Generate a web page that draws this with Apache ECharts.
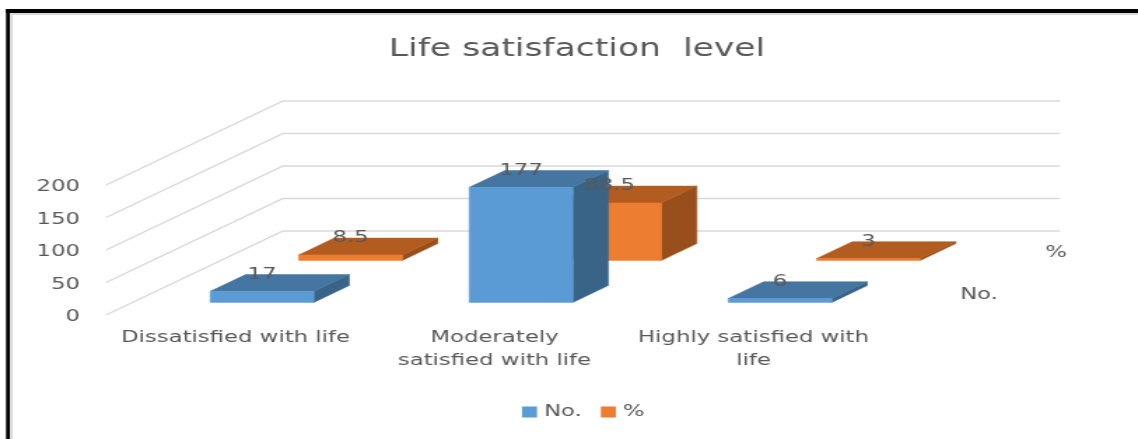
<!DOCTYPE html>
<html>
<head>
<meta charset="utf-8">
<style>
  html, body { margin: 0; padding: 0; background: #fff; overflow: hidden; }
  /* the source picture is a sideways stretched screenshot, so stretch the chart the same way */
  #chart { width: 813px; height: 439px; transform: scaleX(1.39975); transform-origin: left top; }
</style>
<script src="https://cdn.jsdelivr.net/npm/echarts@6/dist/echarts.min.js"></script>
</head>
<body>
<div id="chart"></div>
<script>
const categories = ["Dissatisfied with life", "Moderately\nsatisfied with life", "Highly satisfied with\nlife"];
const noValues = [17, 177, 6];
const percentValues = [8.5, 88.5, 3];
const valueTicks = [0, 50, 100, 150, 200];

const STRETCH = 1138 / 813;
const px = (v) => v / STRETCH;

const FONT = "DejaVu Sans";
const FONT_SIZE = 16.3;
const TEXT = "#595959";
const DEPTH_X = px(177);
const DEPTH_Y = 84;
const ROWS = 2;
const BAR_FRACTION = 0.4;

const chart = echarts.init(document.querySelector("#chart"));

function poly(points, fill, z2) {
  return {
    type: "polygon",
    z2: z2,
    shape: { points: points },
    style: { fill: fill, stroke: fill, lineWidth: 0.5 }
  };
}

// one oblique box per data item, row is its place along the depth direction
function barRenderer(row, front, top, side) {
  return function (params, api) {
    const cat = api.value(0);
    const val = api.value(1);
    const slotW = api.size([1, 0])[0];
    const w = slotW * BAR_FRACTION;
    const rowX = DEPTH_X / ROWS;
    const rowY = DEPTH_Y / ROWS;
    const shiftX = (row + 0.3) * rowX;
    const shiftY = (row + 0.3) * rowY;
    const dx = rowX * BAR_FRACTION;
    const dy = rowY * BAR_FRACTION;
    const base = api.coord([cat, 0]);
    const head = api.coord([cat, val]);
    const x0 = base[0] - w / 2 + shiftX;
    const x1 = x0 + w;
    const y0 = base[1] - shiftY;
    const y1 = head[1] - shiftY;
    const z = 10 * (ROWS - row);
    return {
      type: "group",
      children: [
        poly([[x1, y0], [x1 + dx, y0 - dy], [x1 + dx, y1 - dy], [x1, y1]], side, z),
        poly([[x0, y1], [x1, y1], [x1 + dx, y1 - dy], [x0 + dx, y1 - dy]], top, z),
        poly([[x0, y0], [x1, y0], [x1, y1], [x0, y1]], front, z + 1),
        {
          type: "text",
          z2: 100,
          style: {
            x: (x0 + x1) / 2,
            y: y1 - dy,
            text: String(val),
            fill: TEXT,
            font: FONT_SIZE + "px " + FONT,
            align: "center",
            verticalAlign: "middle"
          }
        }
      ]
    };
  };
}

// floor edge and back wall for every value tick
function wallRenderer(params, api) {
  const tick = api.value(0);
  const y = api.coord([0, tick])[1];
  const left = params.coordSys.x;
  const right = left + params.coordSys.width;
  return {
    type: "polyline",
    z2: 1,
    shape: {
      points: [[left, y], [left + DEPTH_X, y - DEPTH_Y], [right + DEPTH_X, y - DEPTH_Y]]
    },
    style: { stroke: "#d9d9d9", lineWidth: 1.4, fill: "none" }
  };
}

function depthLabel(text, x, y) {
  return {
    type: "text",
    style: { x: px(x), y: y, text: text, fill: TEXT, font: FONT_SIZE + "px " + FONT, align: "center", verticalAlign: "middle" }
  };
}

chart.setOption({
  animation: false,
  backgroundColor: "#fff",
  title: {
    text: "Life satisfaction  level",
    left: px(577),
    top: 50,
    padding: 0,
    textAlign: "center",
    textVerticalAlign: "middle",
    textStyle: { color: TEXT, fontFamily: FONT, fontSize: 24.7, fontWeight: "normal" }
  },
  legend: {
    data: ["No.", "%"],
    left: px(522),
    top: 404,
    padding: 0,
    icon: "rect",
    itemWidth: px(15),
    itemHeight: 11,
    itemGap: px(19),
    textStyle: { color: TEXT, fontFamily: FONT, fontSize: FONT_SIZE }
  },
  grid: { left: px(106), top: 185, width: px(777), height: 130 },
  xAxis: {
    type: "category",
    data: categories,
    axisLine: { show: false },
    axisTick: { show: false },
    axisLabel: { color: TEXT, fontFamily: FONT, fontSize: FONT_SIZE, lineHeight: 23, margin: 11, interval: 0 }
  },
  yAxis: {
    type: "value",
    min: 0,
    max: 200,
    interval: 50,
    axisLine: { show: false },
    axisTick: { show: false },
    splitLine: { show: false },
    axisLabel: { color: TEXT, fontFamily: FONT, fontSize: FONT_SIZE, margin: px(26), verticalAlign: "top", lineHeight: 16, padding: [-6, 0, 0, 0] }
  },
  graphic: [
    depthLabel("%", 1056, 253),
    depthLabel("No.", 979, 295),
    { type: "rect", shape: { x: px(6), y: 9, width: px(1132), height: 4 }, style: { fill: "#000" } },
    { type: "rect", shape: { x: px(6), y: 9, width: px(4), height: 430 }, style: { fill: "#000" } },
    { type: "rect", shape: { x: px(10), y: 13, width: px(1128), height: 2 }, style: { fill: "#d9d9d9" } },
    { type: "rect", shape: { x: px(10), y: 13, width: px(2.5), height: 426 }, style: { fill: "#d9d9d9" } }
  ],
  series: [
    {
      type: "custom",
      name: "walls",
      silent: true,
      renderItem: wallRenderer,
      encode: { y: 0 },
      data: valueTicks.map((t) => [t])
    },
    {
      type: "custom",
      name: "No.",
      itemStyle: { color: "#5b9bd5" },
      renderItem: barRenderer(0, "#5b9bd5", "#4575a1", "#396488"),
      encode: { x: 0, y: 1 },
      data: noValues.map((v, i) => [i, v])
    },
    {
      type: "custom",
      name: "%",
      itemStyle: { color: "#ed7d31" },
      renderItem: barRenderer(1, "#ed7d31", "#b35c20", "#984f1c"),
      encode: { x: 0, y: 1 },
      data: percentValues.map((v, i) => [i, v])
    }
  ]
});

window.addEventListener("resize", () => chart.resize());
</script>
</body>
</html>
